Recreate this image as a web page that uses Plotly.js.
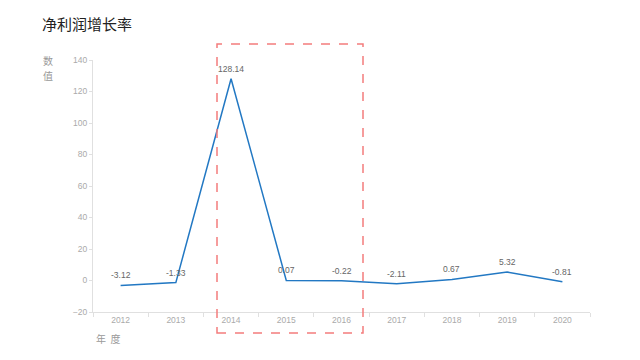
<!DOCTYPE html>
<html><head><meta charset="utf-8">
<script src="https://cdn.plot.ly/plotly-3.0.1.min.js"></script>
<style>html,body{margin:0;padding:0;background:#fff}#c{width:640px;height:360px}</style>
</head><body><div id="c"></div>
<script>
const years = ['2012','2013','2014','2015','2016','2017','2018','2019','2020'];
const growth = [-3.12, -1.33, 128.14, 0.07, -0.22, -2.11, 0.67, 5.32, -0.81];
const labels = growth.map(v => v.toFixed(2));
const yTicks = [-20, 0, 20, 40, 60, 80, 100, 120, 140];
const CJK = '"Noto Sans CJK SC", sans-serif';
const NUM = '"Liberation Sans", Arial, sans-serif';

const trace = {
  type: 'scatter', mode: 'lines',
  x: years, y: growth,
  line: {color: '#2278c3', width: 1.5},
  hoverinfo: 'none'
};

// category axis: annotation x given as category serial index
const valueNotes = years.map((yr, i) => ({
  x: i, y: growth[i], xref: 'x', yref: 'y', text: labels[i],
  showarrow: false, xanchor: 'center', yanchor: 'middle', yshift: 10,
  font: {family: NUM, size: 8.5, color: '#666'}
}));

const layout = {
  width: 640, height: 360,
  margin: {l: 93, r: 50, t: 60, b: 48},
  paper_bgcolor: '#fff', plot_bgcolor: '#fff',
  showlegend: false,
  font: {family: CJK},
  title: {text: '净利润增长率', x: 42/640, xanchor: 'left', y: 1 - 25/360, yanchor: 'middle',
          font: {family: CJK, size: 15, color: '#222'}},
  xaxis: {
    type: 'category', range: [-0.5, 8.5],
    tickmode: 'array', tickvals: years,
    showgrid: false, zeroline: false,
    showline: true, linecolor: '#e0e0e0', linewidth: 1,
    ticks: 'outside', ticklen: 4, tickcolor: '#e0e0e0', tickson: 'boundaries',
    tickfont: {family: NUM, size: 8.5, color: '#aaa'}
  },
  yaxis: {
    range: [-20, 140], tickvals: yTicks,
    showgrid: false, zeroline: false,
    showline: true, linecolor: '#e0e0e0', linewidth: 1,
    ticks: 'outside', ticklen: 3, tickcolor: '#e0e0e0',
    tickfont: {family: NUM, size: 8.5, color: '#aaa'}
  },
  annotations: valueNotes.concat([
    {text: '数', xref: 'paper', yref: 'paper', x: (48-93)/497, y: (312-60)/252,
     xanchor: 'center', yanchor: 'middle', showarrow: false,
     font: {family: CJK, size: 10, color: '#999'}},
    {text: '值', xref: 'paper', yref: 'paper', x: (48-93)/497, y: (312-75)/252,
     xanchor: 'center', yanchor: 'middle', showarrow: false,
     font: {family: CJK, size: 10, color: '#999'}},
    {text: '年&nbsp;&nbsp;度', xref: 'paper', yref: 'paper', x: (94-93)/497, y: (312-338)/252,
     xanchor: 'left', yanchor: 'middle', showarrow: false,
     font: {family: CJK, size: 10, color: '#999'}}
  ]),
  shapes: [
    {type: 'rect', xref: 'paper', yref: 'paper',
     x0: (217-93)/497, x1: (363-93)/497, y0: (312-333)/252, y1: (312-44)/252,
     line: {color: '#f47c7c', width: 1.5, dash: 'dash'}, fillcolor: 'rgba(0,0,0,0)'}
  ]
};

Plotly.newPlot('c', [trace], layout, {displayModeBar: false, staticPlot: true});
</script></body></html>
